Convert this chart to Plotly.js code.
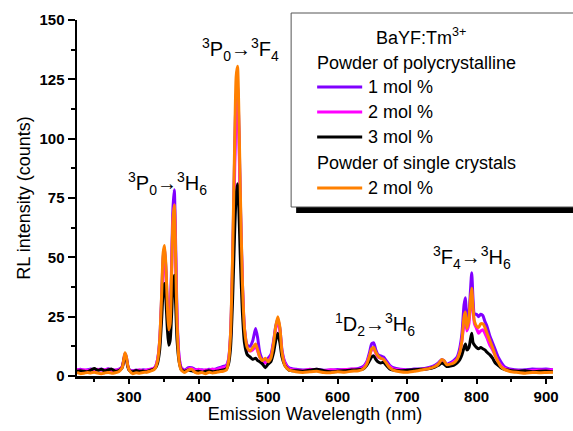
<!DOCTYPE html>
<html>
<head>
<meta charset="utf-8">
<script src="https://cdn.plot.ly/plotly-3.0.1.min.js"></script>
<style>html,body{margin:0;padding:0;background:#fff;}#chart{width:573px;height:431px;}</style>
</head>
<body>
<div id="chart"></div>
<script>
// Emission wavelength (nm)
const wavelength = [225,230,235,240,245,250,255,260,265,270,275,280,285,290,292,294,296,298,300,305,310,315,320,325,330,335,338,341,344,347,349,351,353,355,357,359,361,363,365,367,369,372,375,380,385,390,395,400,405,410,415,420,425,430,435,440,443,446,449,452,454,456,458,460,463,466,470,474,478,482,485,488,492,496,500,504,508,511,514,517,520,524,530,540,550,560,570,580,590,600,610,620,630,637,642,646,649,652,655,658,662,666,670,675,680,690,700,710,720,730,740,745,750,753,757,762,767,772,776,779,782,784,786,789,791,793,795,797,800,803,806,809,812,815,819,823,827,831,835,840,845,850,860,870,880,890,900,910];
// Powder of polycrystalline, 1 mol %
const poly1mol = [2.5,2.8,2.3,2.6,2.9,2.4,2.7,3.0,2.5,3.1,2.6,2.4,2.8,4.0,6.5,9.5,8.0,4.5,2.8,2.2,2.5,2.2,2.6,2.4,2.7,3.0,4.0,7.0,15,35,50,54,45,30,20,24,45,70,78.5,55,25,8,3.5,2.5,3.5,3.5,2.8,2.4,2.6,2.2,2.8,2.5,3.0,3.5,4.0,4.5,7,18,50,95,118,122,105,75,40,20,13,12.5,15,20,16,10,7,6.5,7.5,9,15,21,24,20,11,6,3.5,2.8,2.5,2.6,2.8,2.4,2.5,2.7,2.6,2.8,3.2,4.0,6.0,10,13.5,14,11,9,8.5,8,6.5,4.5,3.5,2.8,2.6,2.9,3.0,3.5,4.5,5.5,7.0,6.5,5.0,5.5,6.5,8.0,12,18,30,33,25,27,35,43.5,32,26,26,25,26,25.5,23,21,17,14,11,8,6,4,3.2,2.8,2.5,2.6,3.0,2.8,3.0,2.6];
// Powder of polycrystalline, 2 mol %
const poly2mol = [2.8,2.5,2.6,2.3,2.7,2.2,2.8,2.4,2.6,2.9,2.3,2.5,2.7,3.8,6.2,9.0,7.6,4.3,2.6,2.0,2.3,2.6,2.2,2.5,2.9,3.2,4.0,7.0,14,32,47,50,42,28,19,22,42,65,72,50,23,7.5,3.2,2.2,3.0,3.2,2.5,2.8,2.3,2.6,2.4,2.9,2.6,3.2,3.5,4.0,6.5,16,45,88,110,116,100,72,38,19,11,10.5,11,12.5,10.5,8,6,5.5,6.5,8,14,20,23,19,10,5.5,3,2.5,2.3,2.8,2.5,2.2,2.6,2.4,2.7,3.0,2.9,3.5,5.5,8.5,11,11.5,9.5,8,7.5,7,5.5,4,3,2.6,2.4,2.5,2.8,3.2,4.0,5.0,6.5,6.0,4.5,5.0,6.0,7.0,10,15,22,24,19,22,30,35,27,22,20,18,19,19.5,18,16,13,11,8.5,6,4.5,3.2,2.8,2.4,2.2,2.0,2.3,2.5,2.4,2.6];
// Powder of polycrystalline, 3 mol %
const poly3mol = [2.0,2.2,2.0,1.8,2.5,3.2,2.4,2.8,2.2,2.6,2.9,2.0,2.3,3.5,6.0,8.5,7.2,4.0,2.4,1.8,2.3,2.0,2.1,1.8,2.4,2.8,3.5,5.5,11,25,36,39,32,20,13,15,25,38,42.5,30,15,6,2.8,2.0,2.5,2.2,1.8,2.0,1.6,2.0,2.2,1.8,2.0,2.2,2.5,3.0,5,12,33,62,76,81,70,50,27,14,9,8,7,7.5,6.5,6,5,3.5,5,6,10,15,18,14,8,4.5,2.5,2.2,2.0,2.4,2.8,2.2,1.8,2.0,2.2,2.5,2.6,3.0,4.5,6.5,8,8.5,7,6,5.5,5.8,4.5,3,2.5,2.2,2.4,2.6,2.8,3.0,3.8,4.5,5.5,5.0,4.0,4.2,4.5,5.5,7,9,12,13.5,11,12,15,18,14,13,12,11.5,12,11.5,11,10,9,7.5,5.5,4.5,3.5,2.8,2.5,2.2,2.0,2.2,1.8,2.0,2.1,1.8];
// Powder of single crystals, 2 mol %
const single2mol = [1.5,1.0,1.2,1.5,1.3,1.6,1.2,1.0,1.3,1.5,1.2,1.4,1.8,3.5,6.5,9.8,8.2,4.5,2.5,1.0,1.4,1.2,1.5,1.6,2.0,2.5,3.5,6.5,15,36,52,55,46,30,19.5,22,42,65,72,50,22,6,2.5,1.5,2.5,2.8,1.5,1.2,1.5,1.0,1.6,1.3,1.5,1.8,2.0,2.5,6,18,52,100,126,130.5,110,78,40,20,12,10.5,12,13.5,11,8,6.5,7.5,6,7.5,14,21,25,20.5,10,4.5,2.5,1.8,1.5,1.8,2.0,1.5,1.4,1.8,1.6,2.0,2.2,3.0,5.0,8.5,11.5,12,10,8.5,7.5,7,5.5,3.5,2.5,1.8,1.6,2.0,2.5,3.0,4.0,5.0,7.0,6.5,4.8,5.0,5.5,7.0,10,15,25,27,20,24,32,37,28,23,21,20.5,22,22,20.5,18,15,12,8.5,6,4,2.8,2.2,1.8,1.5,1.2,1.5,1.4,1.5,1.6];

const seriesNames = ['1 mol %','2 mol %','3 mol %','2 mol %'];
const seriesColors = ['#8000ff','#ff00ff','#000000','#ff8000'];
const seriesData = [poly1mol, poly2mol, poly3mol, single2mol];

const FONT = 'Liberation Sans, Arial, Helvetica, sans-serif';

const traces = seriesData.map((ys, i) => ({
  x: wavelength, y: ys, type: 'scatter', mode: 'lines',
  name: seriesNames[i],
  line: {color: seriesColors[i], width: 3, shape: 'spline', smoothing: 0.6},
  showlegend: false
}));

// paper-coordinate helpers (plot area: x 77..552.7 px, y 20..376 px)
const L = 77, R = 552.7, T = 20, B = 376;
const px = v => (v - L) / (R - L);
const py = v => (B - v) / (B - T);

const shapes = [
  {type:'rect', xref:'paper', yref:'paper', x0:px(296), x1:px(590), y0:py(213), y1:py(207), fillcolor:'#000', line:{width:0}},
  {type:'rect', xref:'paper', yref:'paper', x0:px(291), x1:px(585), y0:py(207), y1:py(13), fillcolor:'#fff', line:{color:'#555', width:1}}
];
const legendRowsY = [87, 112, 137, 188];
legendRowsY.forEach((yy, i) => {
  shapes.push({type:'line', xref:'paper', yref:'paper', x0:px(317), x1:px(362), y0:py(yy), y1:py(yy), line:{color:seriesColors[i], width:3}});
});

const legText = (x, y, text) => ({xref:'paper', yref:'paper', x:px(x), y:py(y), text, showarrow:false, xanchor:'left', yanchor:'middle', font:{family:FONT, size:18, color:'#000'}});

const annotations = [
  legText(374, 37, 'BaYF:Tm<sup>3+</sup>'),
  legText(315, 63, 'Powder of polycrystalline'),
  legText(366, 87, seriesNames[0]),
  legText(366, 112, seriesNames[1]),
  legText(366, 137, seriesNames[2]),
  legText(315, 163, 'Powder of single crystals'),
  legText(366, 188, seriesNames[3]),
  {x:355.7, y:81.3, xref:'x', yref:'y', text:'<sup>3</sup>P<sub>0</sub>→<sup>3</sup>H<sub>6</sub>', showarrow:false, font:{family:FONT, size:20, color:'#000'}},
  {x:460.8, y:137.4, xref:'x', yref:'y', text:'<sup>3</sup>P<sub>0</sub>→<sup>3</sup>F<sub>4</sub>', showarrow:false, font:{family:FONT, size:20, color:'#000'}},
  {x:653.8, y:21.5, xref:'x', yref:'y', text:'<sup>1</sup>D<sub>2</sub>→<sup>3</sup>H<sub>6</sub>', showarrow:false, font:{family:FONT, size:20, color:'#000'}},
  {x:794, y:50, xref:'x', yref:'y', text:'<sup>3</sup>F<sub>4</sub>→<sup>3</sup>H<sub>6</sub>', showarrow:false, font:{family:FONT, size:20, color:'#000'}}
];

const layout = {
  width: 573, height: 431,
  margin: {l: 77, r: 20.3, t: 20, b: 55},
  paper_bgcolor: '#fff', plot_bgcolor: '#fff',
  font: {family: FONT, color: '#000'},
  xaxis: {
    range: [225, 910], showgrid: false, zeroline: false,
    showline: true, linecolor: '#000', linewidth: 2.5,
    ticks: 'outside', ticklen: 5, tickwidth: 2, tickcolor: '#000',
    tickvals: [300,400,500,600,700,800,900],
    tickfont: {family: FONT, size: 15, weight: 'bold', color: '#000'},
    minor: {tickvals:[250,350,450,550,650,750,850], ticks:'outside', ticklen:3, tickwidth:2, tickcolor:'#000'},
    title: {text: 'Emission Wavelength (nm)', font: {family: FONT, size: 18, color: '#000'}, standoff: 4}
  },
  yaxis: {
    range: [0, 150], showgrid: false, zeroline: false,
    showline: true, linecolor: '#000', linewidth: 2.5,
    ticks: 'outside', ticklen: 7, tickwidth: 2, tickcolor: '#000',
    tickvals: [0,25,50,75,100,125,150],
    tickfont: {family: FONT, size: 15, weight: 'bold', color: '#000'},
    minor: {dtick: 12.5, ticks:'outside', ticklen:4, tickwidth:2, tickcolor:'#000'},
    title: {text: 'RL intensity (counts)', font: {family: FONT, size: 18, color: '#000'}, standoff: 4}
  },
  shapes, annotations
};

Plotly.newPlot('chart', traces, layout, {displayModeBar: false, staticPlot: true});
</script>
</body>
</html>
